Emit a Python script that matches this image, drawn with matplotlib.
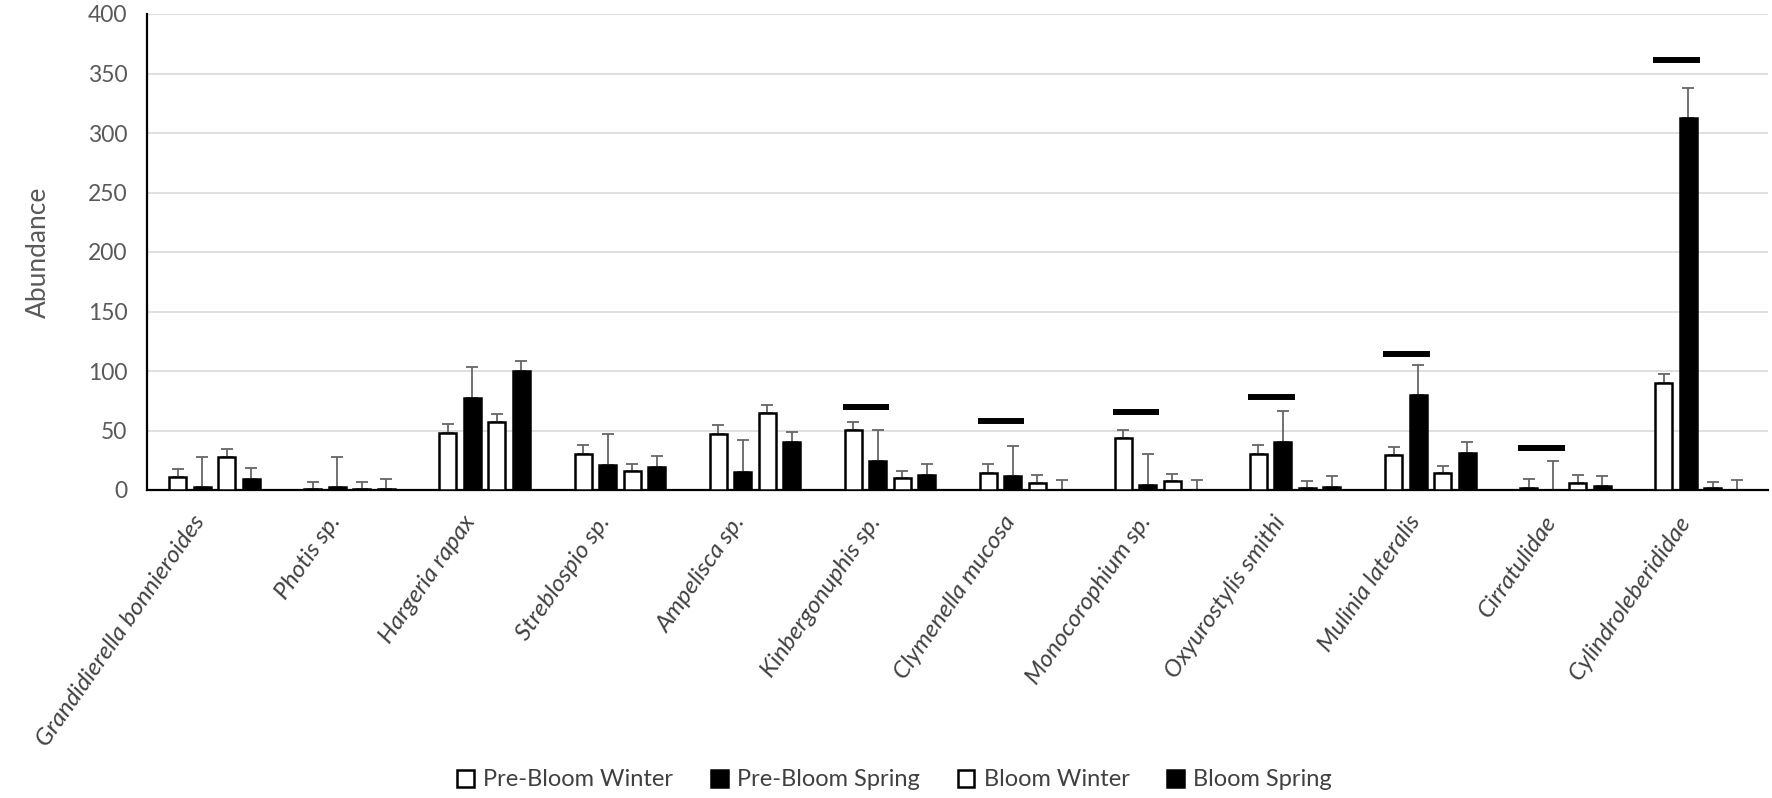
import matplotlib
matplotlib.use("Agg")
import matplotlib.pyplot as plt
import matplotlib.transforms as mtransforms
import numpy as np

plt.rcParams['font.family'] = ['Lato', 'DejaVu Sans']

categories = ["Grandidierella bonnieroides", "Photis sp.", "Hargeria rapax", "Streblospio sp.",
              "Ampelisca sp.", "Kinbergonuphis sp.", "Clymenella mucosa", "Monocorophium sp.",
              "Oxyurostylis smithi", "Mulinia lateralis", "Cirratulidae", "Cylindroleberididae"]
series_names = ["Pre-Bloom Winter", "Pre-Bloom Spring", "Bloom Winter", "Bloom Spring"]

pre_bloom_winter = [11.2, 0.6, 47.8, 30.3, 47.0, 50.3, 14.0, 43.5, 30.6, 29.8, 2.0, 89.6]
pre_bloom_spring = [2.2, 2.2, 77.0, 20.8, 15.4, 24.0, 11.8, 4.2, 40.7, 79.5, 0.3, 312.4]
bloom_winter = [28.1, 1.1, 57.3, 16.0, 65.0, 10.0, 6.2, 7.6, 2.0, 14.0, 6.2, 1.7]
bloom_spring = [9.6, 0.5, 100.0, 19.7, 40.0, 13.0, 0.3, 0.3, 2.8, 31.0, 3.7, 0.3]

err_pre_bloom_winter = [6.8, 6.5, 7.8, 7.3, 7.5, 7.0, 7.6, 7.1, 7.0, 6.7, 7.3, 7.6]
err_pre_bloom_spring = [25.9, 25.3, 26.0, 26.2, 26.2, 26.3, 25.2, 25.8, 25.9, 25.8, 24.4, 25.0]
err_bloom_winter = [6.5, 5.4, 6.2, 6.0, 6.6, 5.7, 6.2, 5.9, 5.6, 6.0, 6.2, 5.3]
err_bloom_spring = [9.0, 8.8, 8.7, 9.0, 9.0, 8.6, 8.4, 7.8, 8.7, 9.0, 8.1, 7.8]

# significance markers (horizontal bars) per category; None = no marker
significance = [None, None, None, None, None, 69.7, 57.9, 65.7, 78.0, 114.6, 35.0, 361.5]

yticks = [0, 50, 100, 150, 200, 250, 300, 350, 400]

values = [pre_bloom_winter, pre_bloom_spring, bloom_winter, bloom_spring]
errors = [err_pre_bloom_winter, err_pre_bloom_spring, err_bloom_winter, err_bloom_spring]
fills = ["white", "black", "white", "black"]

W, H = 1772, 798
fig = plt.figure(figsize=(W / 100, H / 100), dpi=100)
ax = fig.add_axes([147 / W, 1 - 490 / H, (1768 - 147) / W, (490 - 14) / H])

x = np.arange(len(categories))
pitch = 0.1815
bw = 0.126
handles = []
for i, (vals, errs, fc) in enumerate(zip(values, errors, fills)):
    pos = x + (i - 1.5) * pitch
    bars = ax.bar(pos, vals, width=bw, color=fc, edgecolor="black", linewidth=1.8,
                  label=series_names[i], zorder=3)
    handles.append(bars)
    ax.errorbar(pos, vals, yerr=[np.zeros(len(vals)), errs], fmt="none",
                ecolor="#666666", elinewidth=1.3, capsize=4.6, capthick=1.3, zorder=2)

for xi, s in zip(x, significance):
    if s is not None:
        ax.hlines(s, xi - 0.35, xi - 0.005, colors="black", linewidth=4.3, zorder=4)

ax.set_xlim(-0.5, len(categories) - 0.5)
ax.set_ylim(0, 400)
ax.set_yticks(yticks)
ax.yaxis.grid(True, color="#d9d9d9", linewidth=1.2)
ax.set_axisbelow(True)
for sp in ["top", "right"]:
    ax.spines[sp].set_visible(False)
ax.spines["left"].set_linewidth(1.6)
ax.spines["bottom"].set_linewidth(1.6)
ax.tick_params(axis="y", length=0, pad=14, labelsize=16.5, labelcolor="#595959")
ax.tick_params(axis="x", length=0, pad=20, labelsize=17.5, labelcolor="#404040")

ax.set_xticks(x)
ax.set_xticklabels(categories, rotation=55, ha="right", va="center",
                   rotation_mode="anchor", style="italic")
offset = mtransforms.ScaledTranslation(-14 / 100, 0, fig.dpi_scale_trans)
for lbl in ax.get_xticklabels():
    lbl.set_transform(lbl.get_transform() + offset)

fig.text(38 / W, 1 - 252 / H, "Abundance", rotation=90, ha="center", va="center",
         fontsize=19, color="#595959")

fig.legend(handles, series_names, loc="center", bbox_to_anchor=(0.505, 1 - 780 / H),
           ncol=4, frameon=False, fontsize=17, handlelength=0.7, handleheight=0.7,
           columnspacing=1.6, handletextpad=0.4, labelcolor="#404040")

fig.savefig("out.png", dpi=100)
